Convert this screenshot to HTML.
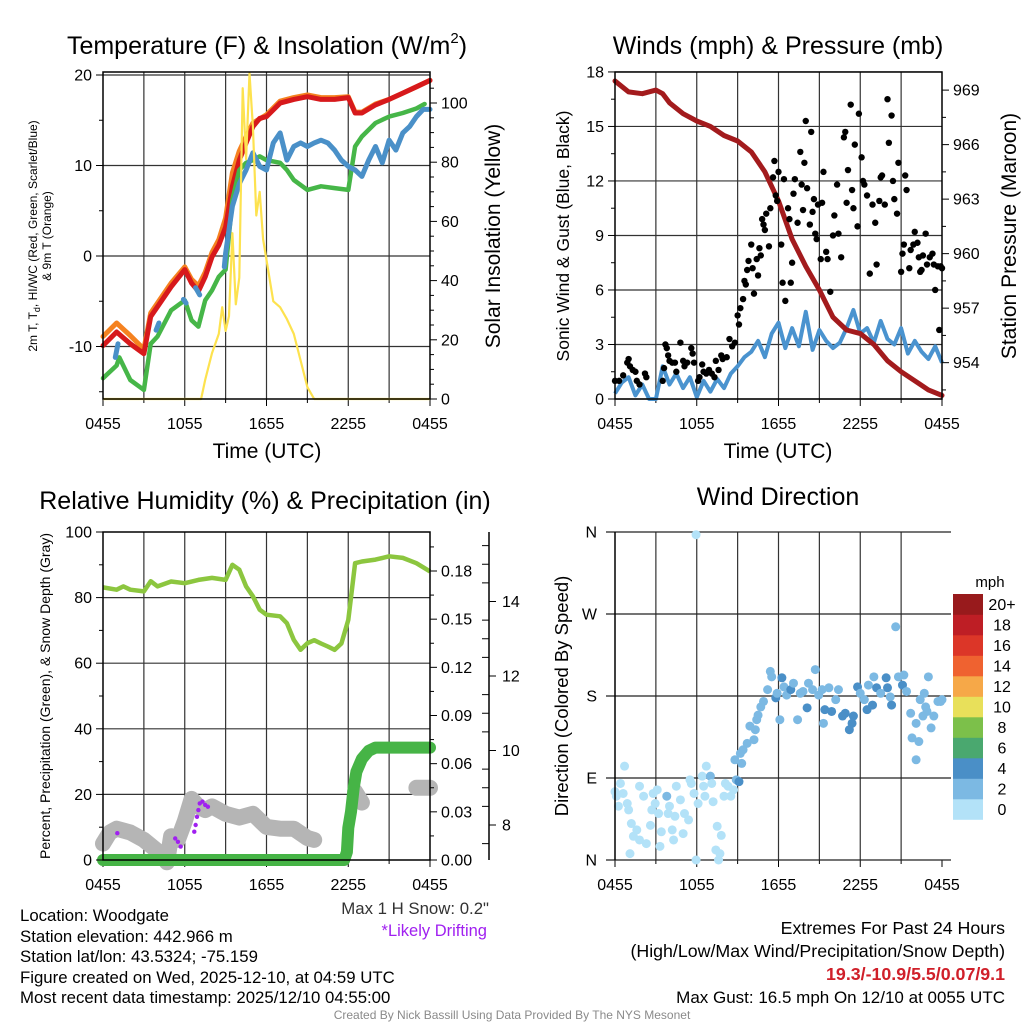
<!DOCTYPE html>
<html><head><meta charset="utf-8"><style>
html,body{margin:0;padding:0;background:#fff;}
svg{display:block;font-family:"Liberation Sans",Arial,sans-serif;}
</style></head><body>
<svg id="chart" width="1024" height="1024" viewBox="0 0 1024 1024" xmlns="http://www.w3.org/2000/svg">
<rect width="1024" height="1024" fill="#fff"/>
<text x="267" y="54" font-size="25" text-anchor="middle">Temperature (F) &amp; Insolation (W/m<tspan font-size="15" dy="-11">2</tspan><tspan dy="11">)</tspan></text>
<text x="778" y="54" font-size="25" text-anchor="middle">Winds (mph) &amp; Pressure (mb)</text>
<text x="265" y="509" font-size="25" text-anchor="middle">Relative Humidity (%) &amp; Precipitation (in)</text>
<text x="778" y="505" font-size="25" text-anchor="middle">Wind Direction</text>
<text x="267" y="458" font-size="21" text-anchor="middle">Time (UTC)</text>
<text x="778" y="458" font-size="21" text-anchor="middle">Time (UTC)</text>
<text transform="translate(37,236) rotate(-90)" font-size="12" text-anchor="middle">2m T, T<tspan font-size="9" dy="3">d</tspan><tspan dy="-3">, HI/WC (Red, Green, Scarlet/Blue)</tspan></text>
<text transform="translate(51,236) rotate(-90)" font-size="12" text-anchor="middle">&amp; 9m T (Orange)</text>
<text transform="translate(500,236) rotate(-90)" font-size="21" text-anchor="middle">Solar Insolation (Yellow)</text>
<text transform="translate(569,236) rotate(-90)" font-size="17.5" text-anchor="middle">Sonic Wind &amp; Gust (Blue, Black)</text>
<text transform="translate(1016,236) rotate(-90)" font-size="21" text-anchor="middle">Station Pressure (Maroon)</text>
<text transform="translate(50,696) rotate(-90)" font-size="14" text-anchor="middle">Percent, Precipitation (Green), &amp; Snow Depth (Gray)</text>
<text transform="translate(568,696) rotate(-90)" font-size="18.5" text-anchor="middle">Direction (Colored By Speed)</text>
<text x="990" y="587" font-size="15" text-anchor="middle">mph</text>
<g font-size="16.8">
<text x="20" y="921">Location: Woodgate</text>
<text x="20" y="942">Station elevation: 442.966 m</text>
<text x="20" y="962">Station lat/lon: 43.5324; -75.159</text>
<text x="20" y="983">Figure created on Wed, 2025-12-10, at 04:59 UTC</text>
<text x="20" y="1003">Most recent data timestamp: 2025/12/10 04:55:00</text>
</g>
<text x="489" y="914" font-size="16.8" text-anchor="end" fill="#333">Max 1 H Snow: 0.2"</text>
<text x="487" y="936" font-size="16.5" text-anchor="end" fill="#a020f0">*Likely Drifting</text>
<g font-size="17.8" text-anchor="end">
<text x="1005" y="934">Extremes For Past 24 Hours</text>
<text x="1005" y="957">(High/Low/Max Wind/Precipitation/Snow Depth)</text>
<text x="1005" y="980" fill="#d0202a" font-weight="bold">19.3/-10.9/5.5/0.07/9.1</text>
<text x="1005" y="1003" font-size="17">Max Gust: 16.5 mph On 12/10 at 0055 UTC</text>
</g>
<text x="512" y="1019" font-size="12" fill="#8a8a8a" text-anchor="middle">Created By Nick Bassill Using Data Provided By The NYS Mesonet</text>
</svg>
<script>
// ---------- DATA ----------
const xTickLabels = ["0455","1055","1655","2255","0455"];
const tempHours = [0,1,2,3,3.5,4,5,6,6.5,7,7.5,8,8.5,9,9.5,10,10.5,11,11.5,12,13,14,15,16,17,18,18.5,19,20,21,22,23,24];
const redTemp = [-9.9,-8.4,-9.7,-10.8,-6.7,-5.6,-3.4,-1.5,-3,-3.9,-2.3,-0.1,1.2,3.2,7.7,10.6,12.5,14.3,15.2,15.4,16.9,17.3,17.6,17.3,17.3,17.5,15.8,15.8,16.7,17.3,18,18.7,19.4];
const orangeHours = [0,1,2,3,3.5,4,5,6,6.5,7,7.5,8,8.5,9,9.5,10,10.5,11,12,13,14,15,16,17,18,18.5,19,20,21,22,23,24];
const orangeTemp = [-8.9,-7.4,-8.8,-10.3,-6.3,-5.2,-3,-1.2,-2.6,-3.3,-1.8,0.4,1.8,4.2,9.2,11.6,13.2,14.7,15.6,17.1,17.5,17.8,17.5,17.5,17.6,15.9,15.9,16.8,17.3,18,18.7,19.4];
const greenHours = [0,1,1.2,2,3,3.5,4,5,6,6.5,7,7.5,8,8.5,9,9.5,10,10.5,11,11.5,12,13,13.5,14,15,16,17,18,18.5,19,20,21,22,23,23.6];
const greenTemp = [-13.5,-12.1,-11.2,-13.7,-14.8,-9.7,-8.9,-6,-4.9,-7.1,-7.8,-4.9,-3.8,-2.3,-1.5,6.2,9.5,10.3,10.6,11,10.6,10.3,9.5,8.4,7.3,7.7,7.5,7.3,12.1,13.2,14.7,15.4,15.8,16.3,16.8];
const blueHours = [0.9,1.1,null,3.9,4.1,null,5.9,6.1,null,6.8,7.1,null,8.9,9,9.5,10,10.5,11,11.5,12,12.5,13,13.5,14,14.5,15,15.5,16,16.5,17,17.5,18,18.5,19,19.5,20,20.5,21,21.5,22,22.5,23,23.5,24];
const blueTemp = [-11.2,-9.7,null,-8.2,-7.4,null,-4.8,-5.2,null,-3.5,-4.3,null,-1.2,0.3,5.5,8,9.5,11.4,9.9,9.5,12.5,13.6,10.6,12.1,12.5,12.1,12.5,12.8,12.5,11.7,10.6,9.9,9.5,8.8,10.6,12.1,10.3,12.8,11.7,13.6,14.3,15.4,16.2,16.2];
const solarHours = [0,7.2,7.5,8,8.5,8.75,9,9.25,9.5,9.75,10,10.25,10.5,10.75,11,11.25,11.5,11.75,12,12.5,13,13.5,14,14.5,15,15.5,24];
const solarValues = [0,0,6.5,15.5,22,31,23,28,56,32,41,105,81,110,92,62,70,54,47,33,31,27,22,13,4,0,0];
const tempTicks = [-10,0,10,20];
const solarTicks = [0,20,40,60,80,100];

const windHours = [0,0.5,1,1.5,2,2.5,3,3.5,4,4.5,5,5.5,6,6.5,7,7.5,8,8.5,9,9.5,10,10.5,11,11.5,12,12.5,13,13.5,14,14.5,15,15.5,16,16.5,17,17.5,18,18.5,19,19.5,20,20.5,21,21.5,22,22.5,23,23.5,24];
const windSpeed = [0.3,0.9,1.2,0.2,0.8,0,0,1.8,0.8,1.4,0.6,1.2,0.1,1.0,0.4,1.1,0.6,1.4,1.8,2.3,2.6,3.2,2.3,3.6,4.2,2.8,3.9,2.9,4.8,2.7,3.8,3.2,2.8,3.1,3.9,4.9,3.6,3.9,3.1,4.3,3.3,3.0,3.9,2.5,3.2,2.6,2.2,2.9,2.0];
const pressHours = [0,1,2,3,3.5,4,5,6,7,8,9,10,11,12,13,14,15,16,17,18,19,20,21,22,23,24];
const pressure = [969.5,968.9,968.8,969.0,968.8,968.3,967.7,967.3,967.0,966.5,966.2,965.6,964.5,962.9,960.8,959.3,958.0,956.5,955.8,955.6,955.0,954.1,953.5,953.0,952.5,952.2];
const gustHours = [0,0.3,0.6,0.9,1.0,1.1,1.3,1.5,1.6,1.8,2.2,2.3,3.5,3.6,3.7,3.8,3.9,4.0,4.2,4.4,4.5,4.8,5.0,5.1,5.3,5.6,5.7,5.8,6.1,6.2,6.4,6.5,6.7,6.9,7.1,7.3,7.4,7.6,7.8,7.9,8.2,8.4,8.6,8.8,9.0,9.1,9.2,9.4,9.5,9.6,9.7,9.8,10.0,10.1,10.2,10.4,10.5,10.6,10.7,10.8,10.9,11.0,11.1,11.3,11.4,11.6,11.7,11.8,11.9,12.0,12.2,12.3,12.4,12.5,12.7,12.8,12.9,13.0,13.1,13.2,13.4,13.6,13.7,13.8,13.9,14.0,14.1,14.3,14.4,14.5,14.6,14.7,14.8,14.9,15.1,15.2,15.3,15.5,15.6,15.8,16.0,16.1,16.3,16.4,16.6,16.8,16.9,17.0,17.1,17.3,17.4,17.5,17.6,17.8,17.9,18.1,18.2,18.3,18.5,18.7,18.9,19.1,19.2,19.4,19.5,19.6,19.8,20.0,20.1,20.3,20.4,20.5,20.7,20.8,21.0,21.1,21.2,21.3,21.4,21.6,21.7,21.9,22.0,22.2,22.3,22.4,22.5,22.6,22.8,22.9,23.1,23.3,23.4,23.5,23.7,23.8,23.9,24.0];
const gustSpeed = [1.0,1.0,1.3,2.0,2.2,1.8,1.6,1.5,1.0,0.8,1.4,1.2,1.0,1.7,3.0,2.8,2.4,2.1,2.0,2.0,1.5,3.1,2.1,1.8,2.0,2.8,2.5,2.0,1.0,1.2,1.9,1.5,1.4,1.6,1.4,1.2,2.1,1.6,2.4,2.2,2.3,3.3,2.9,3.1,4.6,4.1,5.0,5.5,6.5,6.3,7.1,7.6,8.5,7.2,5.8,7.7,6.8,8.3,7.9,9.9,9.6,9.3,10.2,8.4,10.5,12.2,13.1,11.2,10.9,12.5,8.5,6.4,12.1,5.4,10.5,9.9,6.4,7.5,11.3,12.1,9.7,13.6,11.8,10.4,13.0,15.3,11.6,9.6,14.7,10.3,11.0,9.1,8.8,10.7,7.7,10.8,12.5,8.1,7.7,5.9,9.0,10.1,11.8,9.1,7.8,14.4,14.7,10.8,12.6,16.2,11.5,10.5,14.0,9.5,15.7,13.3,12.0,11.8,11.2,6.9,10.7,9.7,7.4,10.9,12.2,12.3,10.7,16.5,14.1,15.6,12.0,11.0,10.2,13.0,7.0,8.0,8.5,12.3,11.5,7.2,8.2,8.5,9.2,8.6,7.8,7.0,7.1,7.9,9.1,7.4,7.8,8.0,7.4,6.0,7.3,3.8,7.3,7.2];
const windTicks = [0,3,6,9,12,15,18];
const pressTicks = [954,957,960,963,966,969];

const rhHours = [0,1,1.5,2,3,3.5,4,5,6,7,8,9,9.5,10,10.5,11,11.5,12,13,13.5,14,14.5,15,15.5,16,16.5,17,17.5,18,18.5,19,20,21,22,23,24];
const rhValues = [83.1,82.4,83.4,82.4,81.9,85,83.4,84.9,84.4,85.4,86,85.4,90,88.5,83.4,80.4,76.3,74.8,74.3,72.2,67.1,64.1,66.1,67,66,65.1,64.1,66,73.2,90.5,91,91.6,92.6,92.1,90.5,88];
const precipHours = [0,17.7,17.9,18,18.2,18.4,18.6,19,19.5,20,24];
const precipValues = [0,0,0.005,0.02,0.03,0.045,0.055,0.063,0.068,0.07,0.07];
const snowHours = [0,0.5,1,2,3,4,4.7,5,5.5,6,6.5,7,7.5,8,9,10,11,12,13,14,15,15.5,null,18.5,19,null,23,24];
const snowDepth = [7.5,7.8,7.9,7.8,7.6,7.3,7.0,7.7,7.6,8.1,8.7,8.5,8.4,8.5,8.3,8.2,8.3,7.95,7.9,7.9,7.65,7.6,null,8.9,8.6,null,9.0,9.0];
const driftHours = [1.05,5.3,5.5,5.7,6.7,6.8,6.9,7.0,7.1,7.3,7.5,7.7];
const driftDepth = [7.78,7.64,7.55,7.42,7.82,8.0,8.22,8.4,8.58,8.63,8.54,8.49];
const rhTicks = [0,20,40,60,80,100];
const precipTicks = [0,0.03,0.06,0.09,0.12,0.15,0.18];
const snowTicks = [8,10,12,14];

const dirHours = [0,0.1,0.25,0.4,0.6,0.7,0.9,1.0,1.2,1.35,1.1,1.6,1.8,1.8,2.1,2.3,2.6,2.7,2.8,2.95,3.1,3.2,3.3,3.4,3.8,3.9,4.0,4.2,4.3,4.4,4.5,4.8,5.0,5.1,5.4,5.5,5.6,5.8,5.95,6.1,6.4,6.5,6.6,6.7,7.0,7.1,7.2,7.4,7.5,7.6,7.7,7.8,8.0,8.1,8.3,8.5,8.7,8.8,8.9,5.95,9.1,9.2,9.3,9.4,9.7,9.9,10.2,10.3,10.4,10.5,10.7,10.9,11.2,11.4,11.5,11.8,11.9,12.1,12.25,12.4,12.6,12.9,13.1,13.4,13.6,13.8,14.1,14.2,14.5,14.7,14.95,15.2,15.3,15.4,15.7,15.9,16.2,16.4,16.7,16.9,17.2,17.4,17.5,17.8,18.0,18.3,18.5,18.6,18.9,19.0,19.2,19.5,19.9,20.0,20.2,20.3,20.6,20.8,21.1,21.2,21.4,21.7,21.8,22.1,22.3,22.1,22.4,22.7,22.9,23.0,23.2,23.4,23.7,23.9,24.0,22.6,22.8];
const dirDegrees = [75,70,59,84,73,103,62,55,40,26,7,33,22,81,70,18,38,55,73,62,77,51,15,31,70,51,59,33,22,48,81,66,29,51,44,88,84,73,0,62,92,81,70,103,92,84,64,11,37,0,7,27,70,84,81,70,77,110,88,357,86,117,106,121,128,147,132,143,154,159,168,174,187,207,201,178,183,154,200,190,181,187,194,154,183,185,167,194,187,209,181,187,150,165,189,163,176,187,158,161,143,150,158,190,183,176,165,192,170,201,189,183,200,189,179,170,256,201,192,203,185,161,134,110,130,150,176,183,163,201,145,158,174,174,176,158,168];
const dirSpeed = [1,1,1,1,1,1,1,1,1,1,1,1,1,1,1,1,1,1,1,1,1,1,1,1,3,1,1,1,1,1,1,1,1,1,1,1,1,1,1,1,1,1,1,1,3,1,1,1,1,1,1,1,1,1,1,1,1,2,2,1,4,2,2,2,2,2,2,2,2,2,2,2,2,2,2,4,3,2,4,3,2,4,3,2,2,3,4,3,2,2,2,2,2,4,2,4,3,2,4,4,4,4,4,4,3,2,4,3,4,2,4,3,4,4,2,4,2,2,4,2,2,2,2,2,2,2,2,2,2,2,2,2,2,2,2,2,2];
const dirTickLabels = ["N","E","S","W","N"];
const dirTickDegrees = [0,90,180,270,360];
const cbLabels = ["0","2","4","6","8","10","12","14","16","18","20+"];
const cbColors = ["#b3e2f8","#7cb9e3","#4a8fc7","#4aa86f","#7cc04a","#e8e05a","#f6a848","#ef6230","#dc3628","#be1e25","#981a1c"];

// ---------- HELPERS ----------
const svg = document.getElementById('chart');
const NS = 'http://www.w3.org/2000/svg';
function mk(tag, attrs, name, parent) {
  const el = document.createElementNS(NS, tag);
  for (const k in attrs) el.setAttribute(k, attrs[k]);
  
  
  (parent || svg).appendChild(el);
  return el;
}
function txt(x, y, s, size, anchor, name, fill) {
  const t = mk('text', {x: x, y: y, 'font-size': size, 'text-anchor': anchor, fill: fill || '#000'}, name);
  t.textContent = s;
  return t;
}
function linePath(xs, ys, fx, fy) {
  let d = '', pen = false;
  for (let i = 0; i < xs.length; i++) {
    if (xs[i] === null || ys[i] === null) { pen = false; continue; }
    d += (pen ? 'L' : 'M') + fx(xs[i]).toFixed(1) + ' ' + fy(ys[i]).toFixed(1) + ' ';
    pen = true;
  }
  return d;
}
function frame(p, name) {
  const g = mk('g', {}, name + '-grid');
  for (let h = 3; h < 24; h += 3) {
    mk('line', {x1: p.fx(h), x2: p.fx(h), y1: p.y0, y2: p.y1, stroke: '#333', 'stroke-width': 1.2}, name + '-vgrid', g);
  }
  for (let h = 0; h <= 24; h += 3) {
    mk('line', {x1: p.fx(h), x2: p.fx(h), y1: p.y1, y2: p.y1 + (h % 6 === 0 ? 7 : 4), stroke: '#000', 'stroke-width': 1}, name + '-xtick', g);
  }
  xTickLabels.forEach((s, i) => txt(p.fx(i * 6), p.y1 + 30, s, 16, 'middle', name + '-xtick-label'));
}
function box(p, name) {
  mk('rect', {x: p.x0, y: p.y0, width: p.x1 - p.x0, height: p.y1 - p.y0, fill: 'none', stroke: '#000', 'stroke-width': 1.5}, name + '-plot-border');
}
function yAxis(x, side, ticks, fy, labels, minors, name, ymin, ymax) {
  const dir = side === 'left' ? -1 : 1;
  ticks.forEach((v, i) => {
    const y = fy(v);
    mk('line', {x1: x, x2: x + dir * 7, y1: y, y2: y, stroke: '#000'}, name + '-tick');
    txt(x + dir * 11, y + 5.5, labels[i], 16, side === 'left' ? 'end' : 'start', name + '-tick-label');
  });
  minors.forEach(v => {
    const y = fy(v);
    if (y < ymin - 0.5 || y > ymax + 0.5) return;
    mk('line', {x1: x, x2: x + dir * 4, y1: y, y2: y, stroke: '#000'}, name + '-minor-tick');
  });
}

// ---------- PANEL 1: TEMPERATURE ----------
const p1 = {x0: 103, x1: 430, y0: 72, y1: 399};
p1.fx = h => p1.x0 + h * (p1.x1 - p1.x0) / 24;
const yT = v => 256 - v * 9.05;
const yS = v => 399 - v * 2.96;
frame(p1, 'temp');
tempTicks.forEach(v => mk('line', {x1: p1.x0, x2: p1.x1, y1: yT(v), y2: yT(v), stroke: '#333', 'stroke-width': 1.2}, 'temp-hgrid'));
mk('path', {d: linePath(orangeHours, orangeTemp, p1.fx, yT), fill: 'none', stroke: '#f58220', 'stroke-width': 5, 'stroke-linejoin': 'round', 'stroke-linecap': 'round'}, 'orange-9m-temp-line');
mk('path', {d: linePath(tempHours, redTemp, p1.fx, yT), fill: 'none', stroke: '#d7191c', 'stroke-width': 5, 'stroke-linejoin': 'round', 'stroke-linecap': 'round'}, 'red-2m-temp-line');
mk('path', {d: linePath(greenHours, greenTemp, p1.fx, yT), fill: 'none', stroke: '#46b648', 'stroke-width': 4.5, 'stroke-linejoin': 'round', 'stroke-linecap': 'round'}, 'green-dewpoint-line');
mk('path', {d: linePath(blueHours, blueTemp, p1.fx, yT), fill: 'none', stroke: '#4a90c8', 'stroke-width': 5, 'stroke-linejoin': 'round', 'stroke-linecap': 'round'}, 'blue-windchill-line');
mk('path', {d: linePath(solarHours, solarValues, p1.fx, yS), fill: 'none', stroke: '#fde24f', 'stroke-width': 2.2, 'stroke-linejoin': 'round'}, 'yellow-insolation-line');
box(p1, 'temp');
yAxis(p1.x0, 'left', tempTicks, yT, tempTicks.map(String), [-15, -5, 5, 15], 'temp-left', p1.y0, p1.y1);
yAxis(p1.x1, 'right', solarTicks, yS, solarTicks.map(String), [5,10,15,25,30,35,45,50,55,65,70,75,85,90,95,105], 'solar-right', p1.y0, p1.y1);

// ---------- PANEL 2: WINDS ----------
const p2 = {x0: 615, x1: 942, y0: 72, y1: 399};
p2.fx = h => p2.x0 + h * (p2.x1 - p2.x0) / 24;
const yW = v => 399 - v * 18.17;
const yP = v => 399 - (v - 952) * 18.17;
frame(p2, 'wind');
windTicks.forEach(v => mk('line', {x1: p2.x0, x2: p2.x1, y1: yW(v), y2: yW(v), stroke: '#333', 'stroke-width': 1.2}, 'wind-hgrid'));
mk('path', {d: linePath(windHours, windSpeed, p2.fx, yW), fill: 'none', stroke: '#4a93cf', 'stroke-width': 4, 'stroke-linejoin': 'round'}, 'blue-wind-speed-line');
mk('path', {d: linePath(pressHours, pressure, p2.fx, yP), fill: 'none', stroke: '#a31b1d', 'stroke-width': 5, 'stroke-linejoin': 'round', 'stroke-linecap': 'round'}, 'maroon-pressure-line');
gustHours.forEach((h, i) => {
  const c = mk('circle', {cx: p2.fx(h), cy: yW(gustSpeed[i]), r: 3.2, fill: '#000'}, 'gust-point');
});
box(p2, 'wind');
yAxis(p2.x0, 'left', windTicks, yW, windTicks.map(String), [1.5,4.5,7.5,10.5,13.5,16.5], 'wind-left', p2.y0, p2.y1);
yAxis(p2.x1, 'right', pressTicks, yP, pressTicks.map(String), [952.5,955.5,958.5,961.5,964.5,967.5], 'pressure-right', p2.y0, p2.y1);

// ---------- PANEL 3: HUMIDITY ----------
const p3 = {x0: 103, x1: 430, y0: 532, y1: 860};
p3.fx = h => p3.x0 + h * (p3.x1 - p3.x0) / 24;
const yRH = v => 860 - v * 3.28;
const yPr = v => 860 - v / 0.18 * 289;
const ySn = v => 825 - (v - 8) * 37.25;
frame(p3, 'humidity');
[20,40,60,80].forEach(v => mk('line', {x1: p3.x0, x2: p3.x1, y1: yRH(v), y2: yRH(v), stroke: '#333', 'stroke-width': 1.2}, 'humidity-hgrid'));
mk('path', {d: linePath(snowHours, snowDepth, p3.fx, ySn), fill: 'none', stroke: '#b5b5b5', 'stroke-width': 16, 'stroke-linejoin': 'round', 'stroke-linecap': 'round'}, 'gray-snow-depth-line');
driftHours.forEach((h, i) => {
  const c = mk('circle', {cx: p3.fx(h), cy: ySn(driftDepth[i]), r: 2.2, fill: '#a020f0'}, 'drift-point');
});
mk('path', {d: linePath(rhHours, rhValues, p3.fx, yRH), fill: 'none', stroke: '#8cc63f', 'stroke-width': 4.5, 'stroke-linejoin': 'round'}, 'green-humidity-line');
mk('path', {d: linePath(precipHours, precipValues, p3.fx, yPr), fill: 'none', stroke: '#46b446', 'stroke-width': 12, 'stroke-linejoin': 'round', 'stroke-linecap': 'round'}, 'green-precip-line');
box(p3, 'humidity');
yAxis(p3.x0, 'left', rhTicks, yRH, rhTicks.map(String), [10,30,50,70,90], 'humidity-left', p3.y0, p3.y1);
yAxis(p3.x1, 'right', precipTicks, yPr, precipTicks.map(v => v.toFixed(2)), [0.015,0.045,0.075,0.105,0.135,0.165,0.195], 'precip-right', p3.y0, p3.y1);
mk('line', {x1: 489, x2: 489, y1: 532, y2: 860, stroke: '#000', 'stroke-width': 1.5}, 'snow-axis-line');
snowTicks.forEach(v => {
  mk('line', {x1: 489, x2: 496, y1: ySn(v), y2: ySn(v), stroke: '#000'}, 'snow-tick');
  txt(502, ySn(v) + 5.5, String(v), 16, 'start', 'snow-tick-label');
});
for (let s = 7.5; s <= 15.5; s += 0.5) {
  if (s % 2 === 0) continue;
  mk('line', {x1: 482, x2: 489, y1: ySn(s), y2: ySn(s), stroke: '#000'}, 'snow-minor-tick');
}

// ---------- PANEL 4: WIND DIRECTION ----------
const p4 = {x0: 615, x1: 942, y0: 532, y1: 860};
p4.fx = h => p4.x0 + h * (p4.x1 - p4.x0) / 24;
const yD = d => 860 - d / 360 * 328;
frame(p4, 'direction');
dirTickDegrees.forEach((d, i) => {
  mk('line', {x1: 606, x2: 951, y1: yD(d), y2: yD(d), stroke: '#222', 'stroke-width': 1.2}, 'direction-hgrid');
  txt(597, yD(d) + 5.5, dirTickLabels[i], 16, 'end', 'direction-tick-label');
});
dirHours.forEach((h, i) => {
  const c = mk('circle', {cx: p4.fx(h), cy: yD(dirDegrees[i]), r: 4.5, fill: cbColors[Math.min(dirSpeed[i] >> 1, 10)] }, 'direction-point');
});
mk('line', {x1: p4.x0, x2: p4.x0, y1: p4.y0, y2: p4.y1, stroke: '#000', 'stroke-width': 1.5}, 'direction-left-axis');
// colorbar
const cbTop = 594, cbBin = 20.5;
cbColors.forEach((c, i) => {
  const y = cbTop + (10 - i) * cbBin;
  mk('rect', {x: 953, y: y, width: 30, height: cbBin + 0.3, fill: c}, 'colorbar-bin');
  txt(1002, y + cbBin / 2 + 5.5, cbLabels[i], 16, 'middle', 'colorbar-label');
});
</script>
</body></html>
